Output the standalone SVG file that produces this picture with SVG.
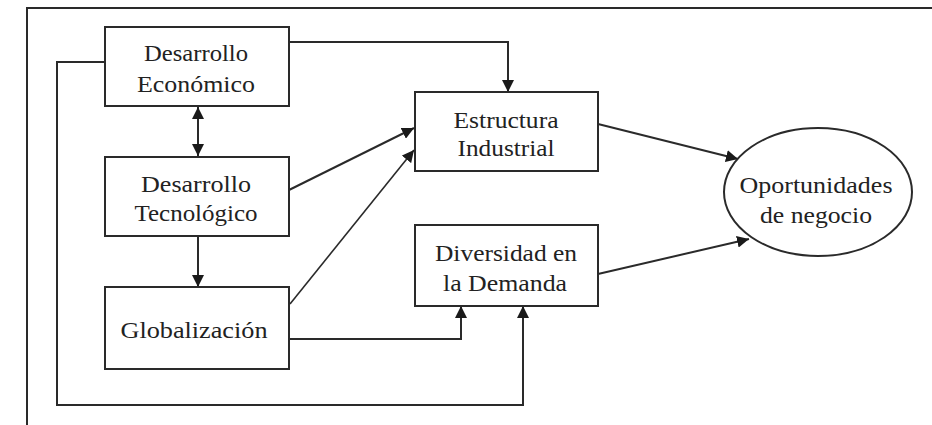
<svg xmlns="http://www.w3.org/2000/svg" width="932" height="425" viewBox="0 0 932 425">
<style>
.box{fill:#fff;stroke:#2a2a2a;stroke-width:2}
.ln{fill:none;stroke:#2a2a2a;stroke-width:2}
.t{font-family:"Liberation Serif","Times New Roman",serif;font-size:24px;fill:#222;text-anchor:middle}
</style>
<defs>
<marker id="ah" viewBox="0 0 10 10" refX="10" refY="5" markerWidth="12" markerHeight="12" markerUnits="userSpaceOnUse" orient="auto-start-reverse">
<path d="M0,0 L10,5 L0,10 Z" fill="#1a1a1a"/>
</marker>
</defs>
<rect width="932" height="425" fill="#fff"/>
<path class="ln" d="M27,425 V8 H932"/>
<g id="connectors">
<path class="ln" d="M289,42 H508 V92" marker-end="url(#ah)"/>
<path class="ln" d="M105,62 H57 V405 H523 V306" marker-end="url(#ah)"/>
<path class="ln" d="M198,107 V156" marker-start="url(#ah)" marker-end="url(#ah)"/>
<path class="ln" d="M198,236 V287" marker-end="url(#ah)"/>
<path class="ln" d="M289,190 L414,128" marker-end="url(#ah)"/>
<path class="ln" d="M290,304 L414,150" marker-end="url(#ah)" style="stroke-width:1.6"/>
<path class="ln" d="M289,339 H461 V306" marker-end="url(#ah)"/>
<path class="ln" d="M598,124 L738,159" marker-end="url(#ah)"/>
<path class="ln" d="M598,274 L749,239" marker-end="url(#ah)"/>
</g>
<g id="n1">
<rect class="box" x="105" y="27" width="184" height="79"/>
<text class="t" x="196" y="61" textLength="104" lengthAdjust="spacingAndGlyphs">Desarrollo</text>
<text class="t" x="196" y="92" textLength="118" lengthAdjust="spacingAndGlyphs">Económico</text>
</g>
<g id="n2">
<rect class="box" x="105" y="157" width="184" height="79"/>
<text class="t" x="196" y="192" textLength="110" lengthAdjust="spacingAndGlyphs">Desarrollo</text>
<text class="t" x="196" y="221" textLength="123" lengthAdjust="spacingAndGlyphs">Tecnológico</text>
</g>
<g id="n3">
<rect class="box" x="105" y="287" width="184" height="82"/>
<text class="t" x="194" y="338" textLength="147" lengthAdjust="spacingAndGlyphs">Globalización</text>
</g>
<g id="n4">
<rect class="box" x="415" y="92" width="183" height="79"/>
<text class="t" x="506" y="128" textLength="105" lengthAdjust="spacingAndGlyphs">Estructura</text>
<text class="t" x="506" y="156" textLength="97" lengthAdjust="spacingAndGlyphs">Industrial</text>
</g>
<g id="n5">
<rect class="box" x="415" y="225" width="183" height="81"/>
<text class="t" x="506" y="261" textLength="142" lengthAdjust="spacingAndGlyphs">Diversidad en</text>
<text class="t" x="505" y="291" textLength="124" lengthAdjust="spacingAndGlyphs">la Demanda</text>
</g>
<g id="n6">
<ellipse class="box" cx="818" cy="192" rx="94" ry="64"/>
<text class="t" x="816" y="193" textLength="153" lengthAdjust="spacingAndGlyphs">Oportunidades</text>
<text class="t" x="816" y="223" textLength="112" lengthAdjust="spacingAndGlyphs">de negocio</text>
</g>
</svg>
